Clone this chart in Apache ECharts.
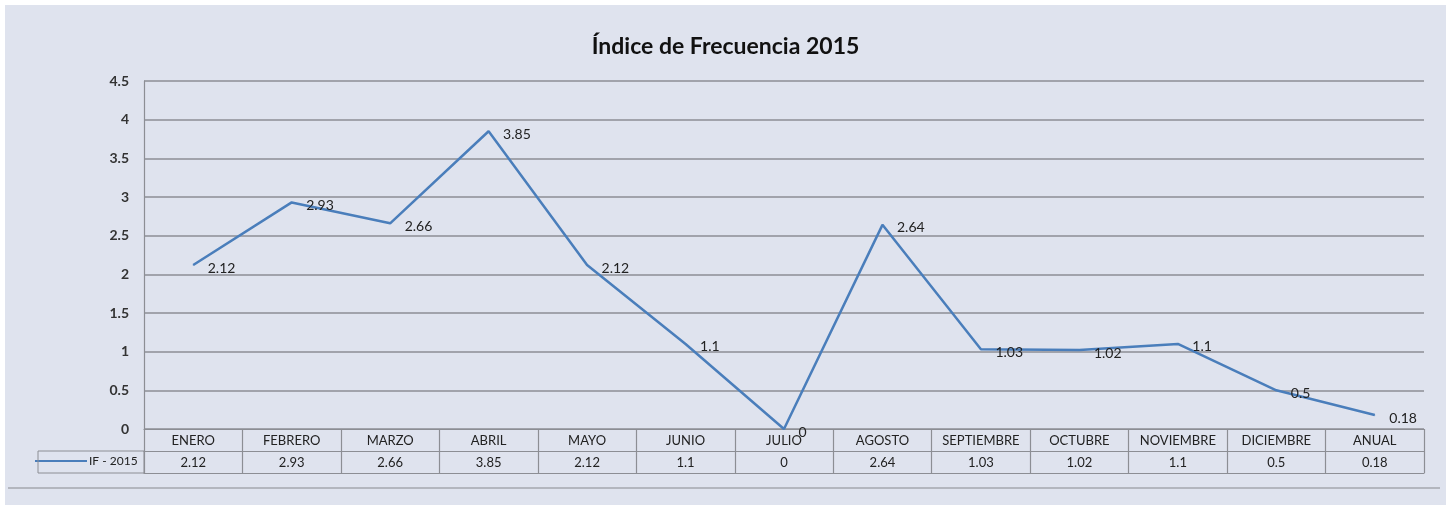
<!DOCTYPE html>
<html>
<head>
<meta charset="utf-8">
<script src="https://cdn.jsdelivr.net/npm/echarts@6/dist/echarts.min.js"></script>
<style>
html,body{margin:0;padding:0;background:#ffffff;}
#main{width:1451px;height:505px;}
</style>
</head>
<body>
<div id="main"></div>
<script>
var titleText = 'Índice de Frecuencia 2015';
var seriesName = 'IF - 2015';
var categories = ['ENERO','FEBRERO','MARZO','ABRIL','MAYO','JUNIO','JULIO','AGOSTO','SEPTIEMBRE','OCTUBRE','NOVIEMBRE','DICIEMBRE','ANUAL'];
var values = [2.12, 2.93, 2.66, 3.85, 2.12, 1.1, 0, 2.64, 1.03, 1.02, 1.1, 0.5, 0.18];
var yTicks = [0, 0.5, 1, 1.5, 2, 2.5, 3, 3.5, 4, 4.5];

var FONT = 'Lato, "Liberation Sans", sans-serif';
var GRID_COLOR = '#8c8e94';
var chart = echarts.init(document.getElementById('main'));
chart.setOption({
  backgroundColor: '#ffffff',
  animation: false,
  textStyle: { fontFamily: FONT },
  title: {
    text: titleText,
    left: 'center',
    top: 30,
    textStyle: { fontFamily: FONT, fontSize: 23, fontWeight: 'bold', color: '#111' }
  },
  graphic: [
    { type: 'rect', z: -100, silent: true, shape: { x: 5, y: 5, width: 1441, height: 500 }, style: { fill: '#dfe3ee' } },
    { type: 'rect', z: 10, silent: true, shape: { x: 38, y: 451, width: 106, height: 22 }, style: { fill: 'none', stroke: GRID_COLOR, lineWidth: 1 } },
    { type: 'line', z: 10, silent: true, shape: { x1: 8, y1: 488, x2: 1440, y2: 488 }, style: { stroke: '#a4a7ae', lineWidth: 1.5 } }
  ],
  legend: {
    data: [seriesName],
    left: 35,
    top: 455,
    padding: 0,
    icon: 'rect',
    itemWidth: 52,
    itemHeight: 2,
    itemGap: 0,
    textStyle: { fontFamily: FONT, fontSize: 12, color: '#222', padding: [0, 0, 0, -3] }
  },
  grid: { left: 144, right: 27, top: 81, bottom: 76 },
  xAxis: [
    {
      type: 'category',
      data: categories,
      boundaryGap: true,
      axisLine: { show: true, lineStyle: { color: GRID_COLOR, width: 1.2 } },
      axisTick: { show: true, interval: 0, length: 44, lineStyle: { color: GRID_COLOR, width: 1.2 } },
      axisLabel: { interval: 0, margin: 5, fontSize: 13, color: '#222', fontFamily: FONT },
      splitLine: { show: false }
    },
    {
      type: 'category',
      data: categories,
      position: 'bottom',
      offset: 22,
      boundaryGap: true,
      axisLine: { show: true, lineStyle: { color: GRID_COLOR, width: 1.2 } },
      axisTick: { show: false },
      axisLabel: { interval: 0, margin: 5, fontSize: 13, color: '#222', fontFamily: FONT,
        formatter: function (v, i) { return String(values[i]); } },
      splitLine: { show: false }
    },
    {
      type: 'category',
      data: categories,
      position: 'bottom',
      offset: 44,
      boundaryGap: true,
      axisLine: { show: true, lineStyle: { color: GRID_COLOR, width: 1.2 } },
      axisTick: { show: false },
      axisLabel: { show: false },
      splitLine: { show: false }
    }
  ],
  yAxis: {
    type: 'value',
    min: yTicks[0],
    max: yTicks[yTicks.length - 1],
    interval: 0.5,
    axisLine: { show: true, lineStyle: { color: GRID_COLOR, width: 1.2 } },
    axisTick: { show: false },
    axisLabel: { margin: 15, fontSize: 14, fontWeight: 'bold', color: '#333', fontFamily: FONT },
    splitLine: { show: true, lineStyle: { color: GRID_COLOR, width: 1.5 } }
  },
  series: [{
    name: seriesName,
    type: 'line',
    data: values,
    xAxisIndex: 0,
    symbol: 'circle',
    symbolSize: 1,
    showSymbol: true,
    lineStyle: { color: '#4a7ebb', width: 2.5 },
    itemStyle: { color: '#4a7ebb' },
    label: {
      show: true,
      position: 'right',
      distance: 14,
      offset: [0, 3],
      fontSize: 14,
      color: '#222',
      fontFamily: FONT
    }
  }]
});
</script>
</body>
</html>
